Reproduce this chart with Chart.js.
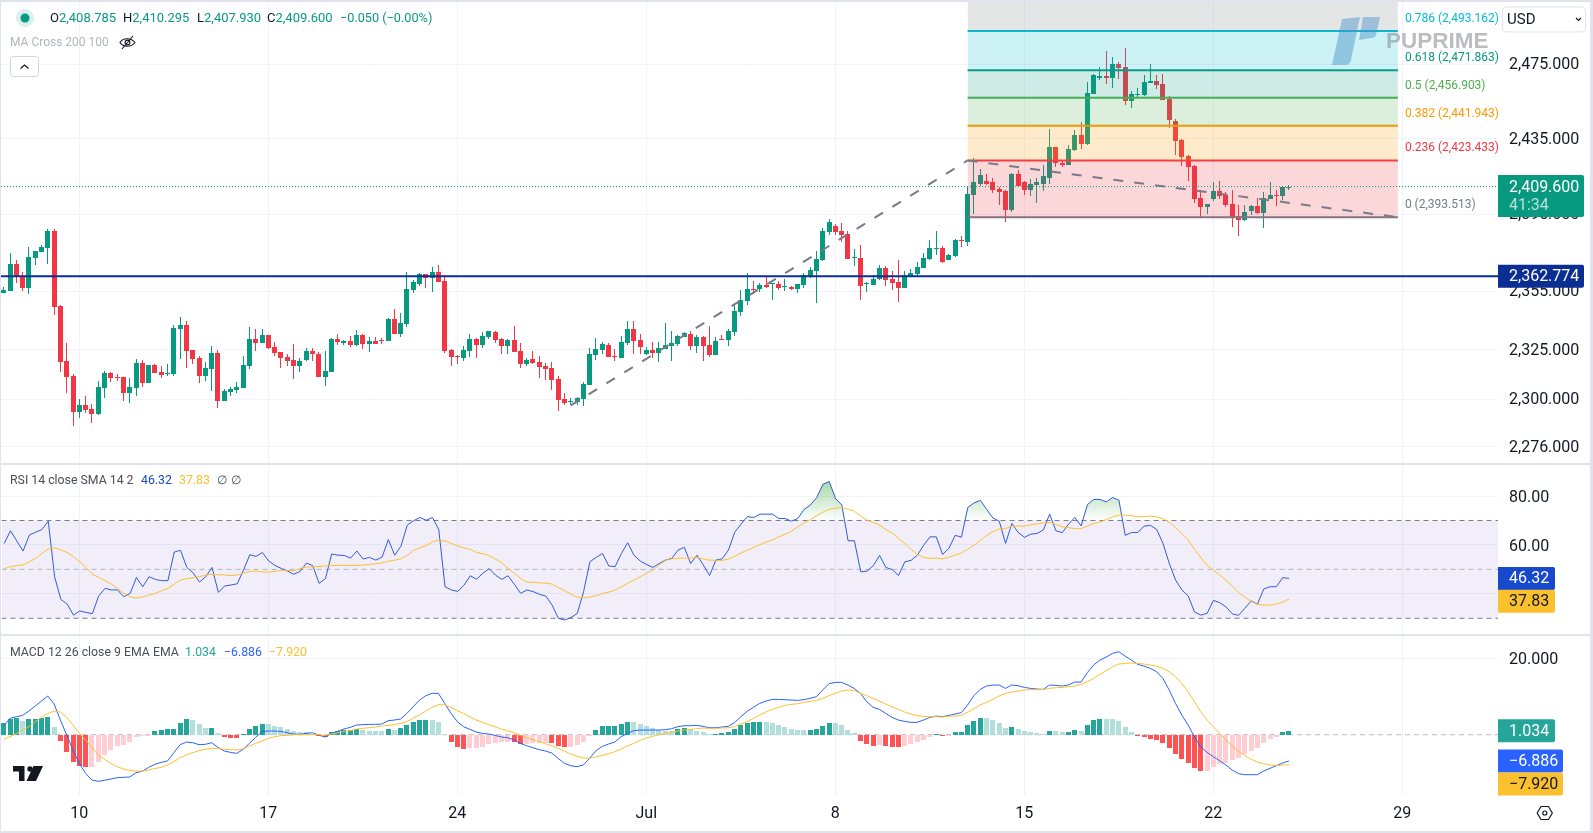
<!DOCTYPE html>
<html>
<head>
<meta charset="utf-8">
<title>XAUUSD</title>
<script src="https://cdn.jsdelivr.net/npm/chart.js@4/dist/chart.umd.js"></script>
<style>
  html, body { margin: 0; padding: 0; }
  body { width: 1593px; height: 833px; background: #e0e3eb; overflow: hidden; font-family: Roboto, sans-serif; position: relative; }
  #panel { position: absolute; left: 1px; top: 2px; width: 1589px; height: 829px; background: #fff; }
  canvas { position: absolute; left: 1px; }
  .sep { position: absolute; left: 1px; width: 1589px; height: 2px; background: #e0e3eb; }
  .txt { position: absolute; white-space: pre; line-height: 16px; }
  .up { color: #089981; }
  svg { position: absolute; left: 0; top: 0; }
</style>
</head>
<body>
<div id="panel"></div>
<canvas id="mainChart" style="top:2px"></canvas>
<div class="sep" style="top:463px"></div>
<canvas id="rsiChart" style="top:465px"></canvas>
<div class="sep" style="top:634px"></div>
<canvas id="macdChart" style="top:636px"></canvas>

<svg width="1593" height="833">
  <circle cx="25" cy="18" r="9" fill="#d9f0ec"/>
  <circle cx="25" cy="18" r="4.5" fill="#089981"/>
  <g fill="none" stroke="#131722" stroke-width="1.1">
    <path d="M120 42.5c3-5 11-5 15 0c-4 5-12 5-15 0z"/>
    <circle cx="127.5" cy="42.5" r="2.4"/>
    <path d="M122 49L133 36"/>
  </g>
  <rect x="10.5" y="56.5" width="28" height="20" rx="3" fill="#fff" stroke="#d1d4dc"/>
  <path d="M20.5 68.5l4-3.5l4 3.5" fill="none" stroke="#131722" stroke-width="1.2"/>
  <g fill="#4a90c8" fill-opacity="0.45">
    <path d="M1342 19l18-2l-9 43q-1 5-6 5l-13 0z"/>
    <path d="M1363 17l17 0l-4 18q-1 3-5 3l-12 2z"/>
  </g>
  <g fill="#131722">
    <path d="M13 766h11.5v15h-5.5v-9.5h-6z"/>
    <circle cx="30" cy="769" r="2.7"/>
    <path d="M33.5 766h9.5l-7 15h-9.5z"/>
  </g>
  <path d="M1541 806.5h7.5l3.8 6.5l-3.8 6.5h-7.5l-3.8-6.5z" fill="none" stroke="#131722" stroke-width="1.2"/>
  <circle cx="1544.8" cy="813" r="2" fill="none" stroke="#131722" stroke-width="1.2"/>
  <rect x="1502.5" y="7" width="83" height="25" rx="4" fill="#fff" stroke="#e0e3eb"/>
  <path d="M1576 18l2.5 2.5l2.5-2.5" fill="none" stroke="#131722" stroke-width="1.2"/>
</svg>

<div class="txt" style="left:50px;top:10px;font-size:13px;color:#131722">O<span class="up">2,408.785</span></div>
<div class="txt" style="left:123px;top:10px;font-size:13px;color:#131722">H<span class="up">2,410.295</span></div>
<div class="txt" style="left:197px;top:10px;font-size:13px;color:#131722">L<span class="up">2,407.930</span></div>
<div class="txt" style="left:267px;top:10px;font-size:13px;color:#131722">C<span class="up">2,409.600</span></div>
<div class="txt up" style="left:340px;top:10px;font-size:12.7px">−0.050 (−0.00%)</div>
<div class="txt" style="left:10px;top:34px;font-size:12px;color:#b2b5be">MA Cross 200 100</div>
<div class="txt" style="left:1507px;top:11px;font-size:15px;color:#131722">USD</div>
<div class="txt" style="left:1386px;top:30px;font-size:22.5px;line-height:22px;font-weight:700;color:rgba(120,123,134,.5);font-family:'Liberation Sans',sans-serif">PUPRIME</div>

<div class="txt" style="left:10px;top:472px;font-size:12.3px;color:#4a4d57">RSI 14 close SMA 14 2</div>
<div class="txt" style="left:141px;top:472px;font-size:12.3px;color:#1848cc">46.32</div>
<div class="txt" style="left:179px;top:472px;font-size:12.3px;color:#fbc02d">37.83</div>
<div class="txt" style="left:217px;top:472px;font-size:12.3px;color:#4a4d57">∅</div>
<div class="txt" style="left:231px;top:472px;font-size:12.3px;color:#4a4d57">∅</div>

<div class="txt" style="left:10px;top:644px;font-size:12.3px;color:#4a4d57">MACD 12 26 close 9 EMA EMA</div>
<div class="txt" style="left:185px;top:644px;font-size:12.3px;color:#26a69a">1.034</div>
<div class="txt" style="left:224px;top:644px;font-size:12.3px;color:#2962ff">−6.886</div>
<div class="txt" style="left:269px;top:644px;font-size:12.3px;color:#fbc02d">−7.920</div>

<script>
// Candles, one value per 4h bar
const opens = [2354.3,2355.3,2369.2,2362.9,2356.9,2372.3,2375.4,2377.5,2386.3,2347.4,
  2319.4,2311.7,2293.4,2297,2294.9,2292.4,2305.6,2313.3,2311.2,2311.2,
  2303.1,2305.6,2318.4,2308.2,2317.4,2313.8,2312.8,2312.8,2335.7,2337.8,
  2325,2320.9,2311.7,2315.3,2323.5,2299,2303.6,2304.6,2305.6,2316.8,
  2330.6,2328.6,2332.7,2326.5,2324,2321.5,2319.9,2316.8,2319.9,2324.5,
  2323,2311.2,2313.8,2330.6,2328.6,2329.6,2327.6,2332.6,2328.1,2329.6,
  2330.1,2329.6,2340.8,2333.2,2338.3,2355.8,2358.9,2364.1,2362,2365.1,
  2360.5,2325,2321.8,2320.9,2324.5,2330.6,2327.6,2331.6,2334.2,2330.6,
  2327,2330.1,2324.5,2317.9,2320.4,2318.9,2316.8,2315.8,2310.2,2300,
  2298.5,2298.5,2300,2307.2,2322.5,2325,2327.6,2322,2320.9,2328.6,
  2335.7,2330.1,2323,2325,2323.5,2325.5,2327,2328.1,2331.6,2333.2,
  2327,2331.6,2327.6,2322.5,2330.6,2330.1,2334.2,2344.4,2350,2356.3,
  2356.3,2358.4,2358.5,2358.9,2357.4,2357.4,2356.3,2358.4,2362.5,2365.6,
  2371.3,2385.8,2388.9,2386.3,2384.7,2372,2372.3,2358.8,2358.4,2361.5,
  2367.2,2361.5,2360,2356.9,2363.1,2364.1,2367.2,2371.8,2377,2377.5,
  2371.3,2373.4,2381.6,2380.6,2405.3,2411.2,2412.8,2411.8,2408.5,2407.5,
  2397.3,2416,2411.8,2408,2410.7,2411.2,2414.4,2430.6,2422,2420.9,
  2429,2437,2432.2,2459,2467.6,2468.7,2467.6,2475.1,2473.5,2455.3,
  2458.5,2458.5,2464.9,2466,2464.4,2456.3,2444.5,2434.3,2425.7,2420.4,
  2403.7,2398.9,2403.2,2407.5,2405.3,2400.5,2394,2392,2396.7,2399.4,
  2395.6,2403.2,2405.3,2404.8,2408.785];
const highs = [2357.4,2374.9,2371.3,2365.1,2378,2376,2379,2387.3,2387.3,2348,
  2328.6,2312.8,2300,2301.5,2297.5,2309.2,2314.3,2313.8,2312.8,2311.2,
  2310.7,2320.4,2319.9,2317.4,2317.9,2316.8,2317.9,2337.8,2341.8,2339.8,
  2325,2322,2318.9,2327,2325,2305.1,2306.1,2308.7,2322,2336.7,
  2335.7,2335.7,2332.7,2329.1,2324,2323,2328,2320.9,2326,2326,
  2324,2324.5,2331.1,2333.2,2330.1,2332.1,2335.2,2333.2,2331.6,2331.6,
  2331.1,2341.3,2345.9,2343.9,2365.1,2361,2364.6,2364.1,2367.7,2368.7,
  2363.6,2325.5,2322.5,2327,2333.2,2331.1,2334.2,2334.7,2334.7,2331.1,
  2330.6,2337.2,2328.6,2320.9,2324.5,2322,2318.4,2318.9,2311.7,2303.1,
  2300.5,2301,2308.7,2326,2331.1,2329.1,2328.6,2325.5,2332.1,2339.8,
  2339.8,2333.2,2326.5,2329.1,2329.1,2338.8,2334.7,2332.6,2334.2,2334.7,
  2332.6,2332.1,2337.2,2331.6,2332.6,2335.7,2348,2355.8,2364.6,2360.5,
  2359.4,2362.5,2359.4,2360.5,2361.5,2357.9,2358.9,2364.6,2367.7,2376,
  2387.8,2392.5,2389.9,2390.4,2386.3,2377,2379,2360,2363.6,2368.7,
  2368.2,2365.6,2371.3,2365.6,2366.7,2370.3,2374.9,2381.6,2386.3,2378.5,
  2374.4,2382.1,2383.7,2409.6,2424.6,2418.7,2416,2413.9,2409.6,2408,
  2416.6,2418.2,2412.3,2413.4,2413.9,2420.9,2440.2,2430.6,2423,2431.6,
  2439.7,2444,2465.5,2469.8,2473.5,2482.1,2478.9,2476.2,2483.7,2460.6,
  2462.2,2469.2,2475.1,2469.2,2469.8,2458,2445.6,2434.8,2426.3,2420.9,
  2408,2400.5,2411.8,2412.3,2406.9,2408,2399.9,2399.9,2399.9,2403.7,
  2406.9,2411.8,2408,2409.6,2410.295];
const lows = [2354.3,2355.3,2359.4,2355.3,2353.3,2368.7,2375.4,2369.2,2342.9,2313.8,
  2303.1,2286.7,2290.3,2292.9,2287.8,2291.9,2300.5,2308.7,2309.2,2299,
  2298,2301.5,2306.1,2308.2,2313.3,2310.7,2311.7,2311.7,2320.4,2315.8,
  2317.9,2308.2,2309.2,2304.1,2295.4,2299,2301.5,2303.1,2305.6,2315.3,
  2324.5,2328.6,2325.5,2322,2315.8,2316.8,2310.2,2313.8,2319.4,2319.4,
  2311.2,2306.6,2313.8,2327.6,2327.6,2326.5,2327,2325.5,2324,2328.1,
  2328.1,2329.6,2333.2,2331.6,2336.7,2354.3,2357.9,2356.9,2354.8,2360,
  2323.5,2316.8,2317.9,2319.4,2321.4,2320.9,2326,2330.6,2328.6,2323,
  2323,2324,2315.8,2316.8,2317.9,2310.7,2309.7,2304.6,2293.9,2297,
  2297,2297,2296.4,2307.2,2319.9,2323,2321.4,2319.4,2320.9,2327.6,
  2323,2323,2322.5,2320.9,2318.9,2325.5,2319.4,2327,2331.6,2325,
  2323.5,2319.4,2321.4,2322.5,2330.1,2327,2332.1,2342.3,2348,2353.8,
  2354.8,2356.9,2350.5,2355.8,2355.3,2355.8,2354.3,2356.9,2362,2349,
  2370.8,2384.2,2384.2,2380.6,2371.8,2368.2,2350.7,2354.8,2358.4,2361,
  2357.9,2355.8,2349.5,2356.9,2362.5,2363.1,2367.2,2371.3,2373.9,2369.8,
  2371.3,2372.9,2378,2378.5,2395.1,2410.1,2410.7,2406.4,2399.9,2390.9,
  2396.2,2410.1,2405.3,2404.8,2401,2407.5,2411.2,2419.8,2419.8,2420.9,
  2428.4,2429.5,2431.6,2459,2466.5,2464.4,2462.2,2467.1,2453.1,2451.5,
  2457.4,2457.9,2464.9,2461.7,2455.8,2440.8,2426.3,2420.4,2412.8,2401,
  2393.5,2395.1,2402.1,2403.2,2398.9,2388.3,2383.7,2391.4,2394.6,2395.1,
  2387.8,2403.2,2399.4,2402.6,2407.93];
const closes = [2355.8,2369.2,2362.2,2356.9,2372.8,2376,2378,2386.3,2346.9,2318.9,
  2311.2,2293.4,2297,2294.4,2292.4,2306.1,2313.3,2310.7,2310.7,2303.1,
  2306.1,2318.4,2308.2,2317.4,2313.3,2312.3,2313.3,2336.2,2337.8,2324.5,
  2320.4,2311.7,2315.8,2323.5,2299,2304.1,2305.1,2306.1,2317.4,2330.6,
  2328.6,2332.7,2326,2323.5,2320.9,2319.4,2316.8,2319.4,2324.5,2322.6,
  2311.2,2314.3,2330.6,2329.1,2329.6,2327.6,2332.6,2328.1,2329.6,2328.1,
  2329.8,2340.8,2333.2,2338.8,2356.3,2360,2364.1,2362,2365.1,2360,
  2324.5,2321.4,2321.4,2325,2330.6,2327.6,2332.1,2334.7,2330.1,2327,
  2330.1,2324,2317.9,2319.9,2318.4,2316.3,2315.3,2309.7,2299.5,2298,
  2299,2300.5,2307.7,2323,2325.5,2328.1,2321.4,2321.7,2329.1,2335.7,
  2329.6,2326.5,2325,2323.5,2326,2327.6,2328.6,2332.1,2333.7,2327,
  2331.6,2327,2322.5,2329.6,2330.1,2334.7,2344.9,2350.5,2356.3,2355.8,
  2358.4,2357.4,2359,2356.9,2357.9,2356.3,2358.9,2363.6,2366.2,2371.8,
  2386.3,2390.9,2385.8,2384.2,2371.8,2372.5,2357.9,2359.3,2361.5,2367.2,
  2361,2359.4,2356.9,2363.6,2364.6,2367.7,2372.3,2377.5,2377.5,2370.3,
  2373.9,2381.6,2380.8,2405.9,2411.8,2415.5,2411.2,2408,2406.9,2397.3,
  2416,2410.1,2408,2411.2,2411.8,2415,2430.6,2422,2420.9,2429.5,
  2437,2432.2,2459.6,2469.2,2468.7,2467.6,2475.1,2473,2455.3,2459,
  2459,2465.5,2466,2463.8,2455.8,2445,2433.8,2425.2,2419.8,2403.2,
  2398.9,2400.5,2407.5,2404.8,2399.9,2393.5,2392,2396.2,2399.4,2395.6,
  2403.7,2405.3,2404.8,2409.6,2409.6];

const rsiValues = [60.6,65.8,61.6,57.5,64.1,65.2,66.3,69.7,47,37.7,
  35.8,31.3,33,32.4,31.9,39.1,42.2,41.6,41.6,38.8,
  40.2,46.7,42.9,47,45.9,45.4,45.4,57.1,57.8,50.8,
  48.6,44.8,47,50.8,40.6,43.2,43.6,44.1,49.7,56,
  55.3,56.9,53.4,51.6,50.4,49.3,48,49.2,52.6,51.5,
  44.3,46.2,56.3,55.8,55.7,54.6,57.5,54.2,54.9,53.8,
  55,62.2,55.8,59.5,68.1,69.9,71.2,70.1,71.2,66.3,
  42.9,41.6,41,43.5,47.4,46,48.4,50.3,47.7,45.9,
  47.4,43.9,40.2,41.6,40.9,39.8,39.1,35.4,30,29.3,
  30.3,32,40.9,53.1,54.9,56.5,51.4,51.1,56.5,60.9,
  55.8,53.4,52,50.8,52.4,53.8,54.5,57.9,59,52.4,
  55.8,51.8,47.5,53.8,54.3,57.9,65.2,68.5,71.6,71.2,
  72.6,72.6,72.6,70.8,70.8,69.7,70.8,74.5,76.3,79.3,
  84.8,85.9,79,76.3,61.7,61.7,49,49.3,51.5,55.7,
  50.8,49.9,47.5,53.1,53.7,55.8,59.9,63.3,63.3,56.1,
  58.6,63.9,63.2,75.3,77.2,78.2,74.5,71,69.7,60.6,
  68.8,65.1,63.1,64.4,64.7,66.1,72.6,65.8,65,68.5,
  71.2,67.8,76.5,78.6,78.6,77.6,79.4,78.3,63.9,65.1,
  65.1,67.7,68,66.3,60.6,52.4,45.6,41.6,39.1,32.6,
  31.3,32,37.3,36.4,34.7,31.8,31.2,34.1,37.1,35.8,
  42,42.9,42.9,46.6,46.32];
const rsiMa = [50.3,51.1,51.5,51.8,53.1,54.5,56.5,58.4,58.8,57.9,
  56.9,55.2,53.1,50.8,48,46.7,45.4,44,42.2,40.2,
  38.7,38.3,38.7,39.5,40.2,41.3,42.2,44,45.6,46.2,
  46.6,47,47.7,48,47.8,47.7,47.5,47.7,48.4,49.2,
  49.3,48.9,48.9,49.2,49.6,49.6,49.4,50.4,50.9,51.1,
  51.2,51.4,51.6,51.6,51.6,51.6,51.6,51.8,52,52.3,
  52.7,53.3,53.8,54.3,55.7,57.8,58.8,59.8,61.2,62,
  61.6,60.6,59.5,58.8,58.2,56.9,56.4,55.6,54.2,52.7,
  50.4,48.4,46.3,44.8,44.7,44.5,44.4,44,42.5,41.3,
  39.8,38.6,38.4,38.7,39.2,40.2,40.7,41.6,42.8,44.3,
  45.6,47,48.4,49.7,51.8,53.7,54.3,54.6,54.6,54.6,
  54.9,54.3,53.8,53.7,53.7,54.2,55.4,56.7,57.9,59,
  60.1,61.2,62,63.3,64.4,65.6,67.4,69,70.4,71.9,
  73.4,74.6,75,75.3,74.6,73.8,71.8,70.1,69.2,68.1,
  66.3,64.8,62.7,60.6,58.2,56.1,54.9,54.5,54.6,54.3,
  55,55.8,56.7,58.2,59.9,61.8,63.9,65.4,66.5,66.7,
  67.7,67.7,67.7,68.2,68.6,69,69.2,68.4,67.4,67,
  66.7,66.7,67.7,68.8,69.3,70.4,71.5,72.2,72.2,72,
  71.5,71.6,71.8,71.5,70.7,69.3,67,64.7,62,58.2,
  54.8,51.6,49.7,47.7,45.6,43.2,40.6,38.6,36.9,35.7,
  35.4,35.4,35.8,36.7,37.83];

const macdHist = [3.06,4.1,4.3,3.6,4.1,4.2,4.4,4.6,2,-1.7,
  -4.5,-7.2,-8.2,-8.5,-8.4,-7.2,-5.3,-4,-3,-2.7,
  -1.9,-0.6,-0.4,-0.3,1,1.2,1.5,1.55,3.1,4.1,
  3.8,2.8,1.7,1.75,0.4,-0.7,-0.8,-0.9,0.2,1.5,
  2.3,2.8,2.75,2.3,2,1.5,1,0.7,0.65,0.3,
  -0.3,-0.7,0.7,1,1.2,1.25,1.4,1.2,1,0.95,
  0.9,1.5,1.2,1.7,2.5,3.4,3.8,3.85,3.8,3.4,
  0.3,-1.9,-3.1,-3.8,-3.5,-3.45,-3.1,-2.5,-2.3,-1.9,
  -1.85,-1.95,-2.45,-2.35,-2.2,-2.1,-2.05,-2.2,-2.9,-3.2,
  -3.15,-2.7,-1.9,-0.35,1.2,2.3,2.35,2.4,2.8,3.3,
  3.25,2.8,2.3,1.75,1.2,1,0.95,1.5,1.7,1.4,
  1,0.7,0.2,0.25,0.45,0.7,1.5,2.5,3.1,3.3,
  3.35,3.3,3.1,2.5,2,1.5,1.2,1.15,1.2,1.5,
  2.3,3.1,3,2.5,1.2,0.4,-1.7,-2.4,-3,-2.7,
  -3,-3.2,-3.25,-3,-2.4,-1.9,-1.4,-0.6,0.2,-0.35,
  -0.15,0.7,0.75,2.5,3.6,4.4,4.35,3.85,3.05,1.85,
  2,1.5,1,0.7,0.45,0.3,1,0.95,0.7,0.75,
  1.2,1,2.5,3.85,4.1,4.05,4,3.6,2,0.7,
  -0.35,-0.5,-1,-1.4,-2.2,-3.5,-5.1,-6.4,-7.4,-8.7,
  -9.5,-9.45,-8.5,-7.7,-7.4,-6.6,-6.1,-5.1,-4.3,-3.5,
  -2.2,-1.1,-0.6,0.7,1.034];
const macdLine = [2.27,4.28,4.71,5.06,6.2,7.51,8.82,10.13,8.03,3.84,
  -0.09,-4.02,-7.51,-10.13,-11.87,-12.22,-11.96,-11.61,-11.26,-11.17,
  -11.09,-9.95,-9.6,-8.56,-7.77,-7.25,-6.9,-4.71,-2.62,-1.92,
  -2.1,-2.62,-2.53,-2.1,-3.32,-4.28,-4.63,-4.89,-3.84,-2.27,
  -0.7,0.79,0.96,0.96,0.87,0.52,0.17,0.09,0.35,0.52,
  -0.09,-0.61,0.26,0.87,1.48,1.92,2.53,2.62,2.71,2.71,
  2.79,3.67,3.84,4.1,5.59,7.33,9.08,10.21,10.83,10.83,
  8.21,5.59,3.4,2.1,1.4,0.7,0.35,0.17,-0.17,-0.61,
  -0.79,-1.4,-2.27,-2.88,-3.4,-3.93,-4.28,-4.8,-6.2,-7.51,
  -8.12,-8.38,-7.94,-6.2,-4.19,-3.06,-2.44,-1.92,-0.52,0.35,
  1.05,1.22,1.22,1.22,1.22,1.31,1.57,2.1,2.36,2.36,
  2.44,2.18,1.83,1.83,2.01,2.18,3.14,4.71,6.11,7.16,
  8.21,8.82,9.25,9.25,9.17,9.08,8.99,9.17,9.52,9.95,
  11.7,13.36,13.71,13.71,13.01,12.13,10.83,8.64,7.16,6.63,
  5.59,4.54,3.84,3.49,3.23,3.23,3.84,4.54,4.89,4.71,
  5.06,5.41,5.76,7.77,10.21,11.87,12.75,13.01,13.01,12.13,
  13.01,12.83,12.4,12.13,11.96,11.87,13.01,12.92,12.75,13.01,
  13.79,13.79,16.24,18.25,19.56,20.34,21.3,21.74,20.6,19.56,
  18.42,17.98,17.37,16.5,14.75,11.7,8.21,5.15,2.53,-0.52,
  -3.14,-4.63,-5.76,-6.81,-7.94,-9.25,-10.21,-10.48,-10.48,-10.48,
  -9.52,-8.82,-8.12,-7.42,-6.886];
const macdSignal = [-1.22,-0.52,0.26,1.13,2.1,3.4,4.54,5.59,6.2,5.94,
  4.54,2.53,0.35,-1.4,-3.32,-5.33,-6.46,-7.51,-8.38,-8.99,
  -9.34,-9.52,-9.52,-9.25,-8.82,-8.56,-7.94,-7.07,-6.02,-5.33,
  -4.71,-4.19,-3.84,-3.58,-3.58,-3.84,-3.93,-4.02,-3.67,-2.97,
  -2.27,-1.66,-0.96,-0.52,-0.26,-0.17,0,0,0,0.09,
  0,-0.17,0.17,0.52,0.87,1.05,1.48,1.66,1.83,2.01,
  2.27,2.44,2.62,2.97,3.4,4.28,5.15,6.2,7.16,7.86,
  7.86,7.16,6.29,5.59,4.71,3.84,3.23,2.62,2.1,1.48,
  1.05,0.52,-0.17,-0.79,-1.31,-1.83,-2.36,-2.88,-3.58,-4.28,
  -5.06,-5.67,-6.11,-6.2,-5.85,-5.41,-4.98,-4.45,-3.75,-2.97,
  -2.27,-1.48,-0.87,-0.44,0,0.35,0.61,0.96,1.22,1.4,
  1.57,1.75,1.66,1.66,1.75,1.83,2.1,2.79,3.4,4.28,
  5.15,5.94,6.63,7.16,7.68,7.94,8.12,8.47,8.73,8.99,
  9.52,10.21,10.83,11.44,11.7,11.61,10.83,10.21,9.52,8.82,
  8.03,7.33,6.63,5.94,5.41,4.98,4.8,4.71,4.71,4.63,
  4.8,4.89,5.06,5.85,6.81,7.77,8.47,9.25,10.13,10.83,
  11.17,11.44,11.7,11.79,11.79,11.87,12.13,12.31,12.4,12.57,
  12.75,13.18,13.88,14.75,15.8,16.76,17.81,18.51,18.68,18.77,
  18.68,18.51,18.25,17.98,17.37,16.5,15.19,13.44,11.26,8.64,
  6.02,3.84,2.1,0.35,-1.4,-2.88,-4.37,-5.5,-6.46,-7.16,
  -7.6,-7.94,-8.12,-7.94,-7.92];

// Axis ticks
const priceTicks = [2475, 2435, 2395, 2355, 2325, 2300, 2276];
const rsiTicks = [80, 60, 40];
const macdTicks = [20];
const weekBars = [12, 42, 72, 102, 132, 162, 192, 222];
const weekLabels = ['10', '17', '24', 'Jul', '8', '15', '22', '29'];

// Fibonacci retracement, from its top level down
const fibRatios = ['1', '0.786', '0.618', '0.5', '0.382', '0.236', '0'];
const fibPrices = [2520.29, 2493.162, 2471.863, 2456.903, 2441.943, 2423.433, 2393.513];
const fibColors = ['120,123,134', '0,188,212', '8,153,129', '76,175,80', '255,152,0', '242,54,69', '120,123,134'];
const fibBars = [153, 221.3];

// Trend lines drawn on the chart: [bar, price]
const riseLine = [[90, 2296.8], [153, 2423.433]];
const fallLine = [[153, 2423.433], [221.3, 2393.513]];

const lastPrice = 2409.6;
const levelPrice = 2362.774;

// Bar range that maps to the full pane width
const barMin = -0.4286;
const barMax = 237.19;

const green = '#089981';
const red = '#f23645';
const gridColor = '#f0f3fa';
const axisWidth = 92;
const tickFont = { family: 'Roboto', size: 16 };

Chart.defaults.font.family = 'Roboto';
Chart.defaults.color = '#131722';
Chart.defaults.animation = false;

function money(v, digits) {
  return Number(v).toLocaleString('en-US', { minimumFractionDigits: digits, maximumFractionDigits: digits });
}

function hLine(y, color, width, dash, order, fill) {
  return {
    type: 'line',
    data: [{ x: barMin, y: y }, { x: barMax, y: y }],
    borderColor: color,
    borderWidth: width,
    borderDash: dash,
    pointRadius: 0,
    fill: fill || false,
    order: order
  };
}

function seriesLine(values, color, order, fill) {
  return {
    type: 'line',
    data: values.map((v, i) => ({ x: i, y: v })),
    borderColor: color,
    borderWidth: 1,
    pointRadius: 0,
    tension: 0,
    fill: fill || false,
    order: order
  };
}

function bars(data, colors, thickness, order) {
  return {
    type: 'bar',
    data: data,
    backgroundColor: colors,
    barThickness: thickness,
    maxBarThickness: thickness,
    grouped: false,
    inflateAmount: 0,
    order: order
  };
}

// The panes are laid out by hand, so the scales must not reserve label padding
function noPadding(s) {
  s.paddingTop = 0;
  s.paddingBottom = 0;
  s.paddingLeft = 0;
  s.paddingRight = 0;
}

function xScale(showLabels) {
  return {
    type: 'linear',
    min: barMin,
    max: barMax,
    offset: false,
    afterBuildTicks: s => { s.ticks = weekBars.map(v => ({ value: v })); },
    afterFit: s => { noPadding(s); s.height = showLabels ? 36 : 0; },
    border: { display: false },
    grid: { color: gridColor, offset: false, drawTicks: false },
    ticks: {
      display: showLabels,
      autoSkip: false,
      maxRotation: 0,
      padding: 9,
      font: tickFont,
      callback: v => weekLabels[weekBars.indexOf(v)]
    }
  };
}

function yScale(min, max, tickValues, digits, type, labelOffset) {
  return {
    type: type,
    position: 'right',
    min: min,
    max: max,
    afterBuildTicks: s => { s.ticks = tickValues.map(v => ({ value: v })); },
    afterFit: s => { noPadding(s); s.width = axisWidth; },
    border: { display: false },
    grid: { color: gridColor, drawTicks: false },
    ticks: { autoSkip: false, padding: 11, labelOffset: labelOffset, font: tickFont, callback: v => money(v, digits) }
  };
}

// Snap bars to whole pixels so candles stay sharp
const crispBars = {
  id: 'crispBars',
  beforeDatasetsDraw(chart) {
    chart.getSortedVisibleDatasetMetas().forEach(meta => {
      if (meta.type !== 'bar') return;
      meta.data.forEach(el => {
        const top = Math.round(Math.min(el.y, el.base));
        let bottom = Math.round(Math.max(el.y, el.base));
        if (bottom === top) bottom = top + 1;
        el.x = Math.floor(el.x) + 0.5;
        el.y = top;
        el.base = bottom;
      });
    });
  }
};

// Value flags on the price axis
function priceTags(tags) {
  return {
    id: 'priceTags',
    afterDraw(chart) {
      const ctx = chart.ctx;
      const left = chart.chartArea.right;
      ctx.save();
      ctx.textBaseline = 'middle';
      ctx.textAlign = 'left';
      tags.forEach(tag => {
        const y = chart.scales.y.getPixelForValue(tag.value) + (tag.shift || 0);
        ctx.fillStyle = tag.color;
        ctx.beginPath();
        ctx.roundRect(left, y - 11.5, tag.width, tag.height || 23, [0, 2, 2, 0]);
        ctx.fill();
        ctx.font = '16px Roboto';
        ctx.fillStyle = tag.textColor || '#fff';
        ctx.fillText(tag.text, left + 11, y + 1);
        if (tag.sub) {
          ctx.fillStyle = 'rgba(255,255,255,.7)';
          ctx.fillText(tag.sub, left + 11, y + 19);
        }
      });
      ctx.restore();
    }
  };
}

const fibLabels = {
  id: 'fibLabels',
  afterDatasetsDraw(chart) {
    const ctx = chart.ctx;
    const x = chart.scales.x.getPixelForValue(fibBars[1]) + 7;
    ctx.save();
    ctx.font = '12px Roboto';
    ctx.textBaseline = 'middle';
    ctx.textAlign = 'left';
    fibRatios.forEach((ratio, k) => {
      if (k === 0) return;
      ctx.fillStyle = 'rgb(' + fibColors[k] + ')';
      ctx.fillText(ratio + ' (' + money(fibPrices[k], 3) + ')', x, chart.scales.y.getPixelForValue(fibPrices[k]) - 12);
    });
    ctx.restore();
  }
};

function setupCanvas(id, height) {
  const canvas = document.getElementById(id);
  canvas.style.width = '1589px';
  canvas.style.height = height + 'px';
  canvas.width = 1589;
  canvas.height = height;
  return canvas;
}

const baseOptions = {
  responsive: false,
  maintainAspectRatio: false,
  devicePixelRatio: 1,
  layout: { padding: 0 },
  plugins: { legend: { display: false }, tooltip: { enabled: false } },
  events: []
};

// Price pane
const candleColors = closes.map((c, i) => (c >= opens[i] ? green : red));
const fibDatasets = fibPrices.map((price, k) => {
  const next = fibPrices[k + 1];
  return {
    type: 'line',
    data: fibBars.map(b => ({ x: b, y: price })),
    borderColor: 'rgb(' + fibColors[k] + ')',
    borderWidth: 2,
    pointRadius: 0,
    fill: next === undefined ? false : { target: { value: next }, above: 'rgba(' + fibColors[k] + ',.2)', below: 'rgba(' + fibColors[k] + ',.2)' },
    order: 5
  };
});
const trendStyle = { type: 'line', borderColor: '#787b86', borderWidth: 2, borderDash: [10, 11], pointRadius: 0, fill: false, order: 4 };

new Chart(setupCanvas('mainChart', 461), {
  type: 'bar',
  data: {
    datasets: [
      bars(closes.map((c, i) => ({ x: i, y: [lows[i], highs[i]] })), candleColors, 1, 11),
      bars(closes.map((c, i) => ({ x: i, y: [opens[i], c] })), candleColors, 5, 10),
      ...fibDatasets,
      Object.assign({ data: riseLine.map(p => ({ x: p[0], y: p[1] })) }, trendStyle),
      Object.assign({ data: fallLine.map(p => ({ x: p[0], y: p[1] })) }, trendStyle),
      hLine(lastPrice, green, 1, [1, 2], 3),
      hLine(levelPrice, '#0b2e92', 2, [], 2)
    ]
  },
  options: Object.assign({}, baseOptions, {
    scales: { x: xScale(false), y: yScale(2268, 2509.05, priceTicks, 3, 'logarithmic', 1) }
  }),
  plugins: [crispBars, fibLabels, priceTags([
    { value: lastPrice, color: green, text: money(lastPrice, 3), sub: '41:34', width: 86, height: 42 },
    { value: levelPrice, color: '#0b2e92', text: money(levelPrice, 3), width: 86 }
  ])]
});

// RSI pane
const rsiFill = { target: { value: 70 }, above: 'rgba(76,175,80,.3)', below: 'transparent' };
const rsiChart = new Chart(setupCanvas('rsiChart', 170), {
  type: 'line',
  data: {
    datasets: [
      hLine(70, '#787b86', 1, [5, 4], 5, { target: { value: 30 }, above: 'rgba(126,87,194,.1)', below: 'rgba(126,87,194,.1)' }),
      hLine(50, 'rgba(120,123,134,.5)', 1, [5, 4], 4),
      hLine(30, '#787b86', 1, [5, 4], 4),
      seriesLine(rsiValues, '#2f5bd6', 2, rsiFill),
      seriesLine(rsiMa, '#fbc02d', 1)
    ]
  },
  options: Object.assign({}, baseOptions, {
    scales: { x: xScale(false), y: yScale(23.37, 92.48, rsiTicks, 2, 'linear', 2) }
  }),
  plugins: [priceTags([
    { value: 46.32, color: '#1848cc', text: '46.32', width: 57 },
    { value: 37.83, color: '#fbc02d', text: '37.83', textColor: '#131722', width: 57, shift: 2 }
  ])]
});

const rsiY = rsiChart.scales.y;
const rsiGlow = rsiChart.ctx.createLinearGradient(0, rsiY.getPixelForValue(86), 0, rsiY.getPixelForValue(70));
rsiGlow.addColorStop(0, 'rgba(76,175,80,.5)');
rsiGlow.addColorStop(1, 'rgba(76,175,80,0)');
rsiFill.above = rsiGlow;
rsiChart.update('none');

// MACD pane
const histColors = macdHist.map((v, i) => {
  const prev = i ? macdHist[i - 1] : 0;
  if (v >= 0) return v >= prev ? '#26a69a' : '#b2dfdb';
  return v < prev ? '#ff5252' : '#ffcdd2';
});

new Chart(setupCanvas('macdChart', 195), {
  type: 'bar',
  data: {
    datasets: [
      hLine(0, 'rgba(120,123,134,.5)', 1, [5, 4], 4),
      bars(macdHist.map((v, i) => ({ x: i, y: v })), histColors, 5, 3),
      seriesLine(macdLine, '#2962ff', 2),
      seriesLine(macdSignal, '#fbc02d', 1)
    ]
  },
  options: Object.assign({}, baseOptions, {
    scales: { x: xScale(true), y: yScale(-15.8, 25.86, macdTicks, 3, 'linear', 2) }
  }),
  plugins: [crispBars, priceTags([
    { value: 1.034, color: '#26a69a', text: '1.034', width: 57 },
    { value: -6.886, color: '#2962ff', text: '−6.886', width: 65 },
    { value: -7.92, color: '#fbc02d', text: '−7.920', textColor: '#131722', width: 65, shift: 19 }
  ])]
});
</script>
</body>
</html>
